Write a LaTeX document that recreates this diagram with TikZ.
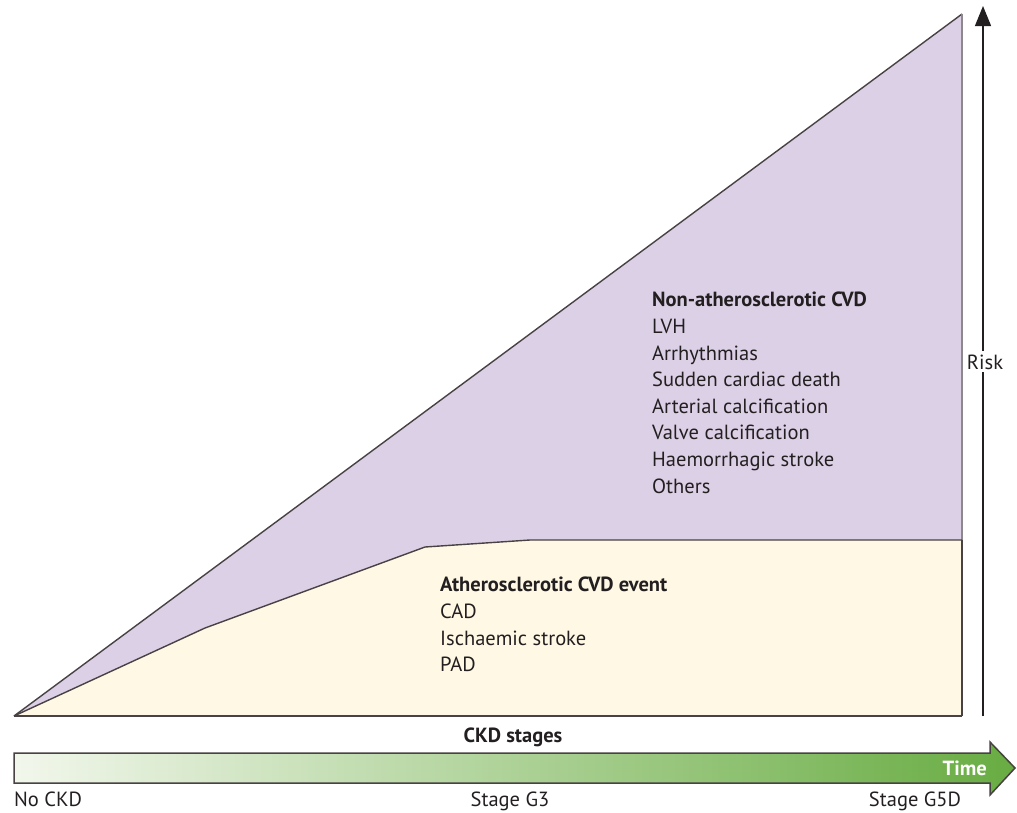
\documentclass[tikz,border=0pt]{standalone}
\usepackage{fontspec}
\setmainfont{PT Sans}
\usepackage{xcolor}
\usepackage{tikz}
\usetikzlibrary{arrows.meta, positioning}

\definecolor{nonathero}{RGB}{220,208,230}
\definecolor{athero}{RGB}{254,248,229}
\definecolor{edgegray}{RGB}{72,66,68}
\definecolor{sidegray}{RGB}{140,136,140}
\definecolor{inkdark}{RGB}{35,31,32}
\definecolor{stageleft}{RGB}{242,247,236}
\definecolor{stageright}{RGB}{104,172,66}

\begin{document}
\begin{tikzpicture}[
    x=1pt, y=-1pt,
    >=Triangle,
    txt/.style={
        font=\fontsize{20.5}{26.6}\selectfont, text=inkdark, inner sep=0pt
    },
    listbox/.style={
        txt, align=left, anchor=north west
    },
    outline/.style={
        draw=edgegray, line width=1.4pt, line join=round
    }
]

\useasboundingbox (0,0) rectangle (1017,812);

% corners of the risk area
\coordinate (origin)  at (14,716);
\coordinate (apex)    at (962,14);
\coordinate (corner)  at (962,716);
\coordinate (kneeA)   at (205,628);
\coordinate (kneeB)   at (425,547);
\coordinate (kneeC)   at (530,540);
\coordinate (plateau) at (962,540);

\path[fill=nonathero] (origin) -- (apex) -- (plateau) -- (kneeC) -- (kneeB) -- (kneeA) -- cycle;

\path[fill=athero] (origin) -- (kneeA) -- (kneeB) -- (kneeC) -- (plateau) -- (corner) -- cycle;

\draw[outline] (origin) -- (apex);
\draw[draw=sidegray, line width=1.6pt] (apex) -- (plateau);
\draw[outline] (plateau) -- (corner);
\draw[outline, line width=2pt] (corner) -- (origin);
\draw[outline] (origin) -- (kneeA) -- (kneeB) -- (kneeC) -- (plateau);

\node[listbox] (nonlist) at (652,292) {\textbf{Non-atherosclerotic CVD}\\
    LVH\\ Arrhythmias\\ Sudden cardiac death\\ Arterial calcification\\
    Valve calcification\\ Haemorrhagic stroke\\ Others};

\node[listbox] (athlist) at (440,577) {\textbf{Atherosclerotic CVD event}\\
    CAD\\ Ischaemic stroke\\ PAD};

% risk axis
\coordinate (riskfoot) at (983,716);
\coordinate (risktip)  at (983,6);
\draw[->, line width=1.3pt, inkdark, arrows={-Triangle[length=20pt, width=16pt]}] (riskfoot) -- (risktip);
\node[txt, fill=white, inner sep=3pt, anchor=base] (risk) at (985,369) {Risk};

% CKD stages arrow
\path[draw=edgegray, line width=1.5pt, line join=miter, left color=stageleft, right color=stageright]
    (14,753) -- (990,753) -- (990,742) -- (1015,768) -- (990,795) -- (990,783) -- (14,783) -- cycle;
\coordinate (stagebar) at (513,742);
\node[txt, font=\fontsize{20.5}{24}\selectfont\bfseries, anchor=base] (ckd) at (stagebar) {CKD stages};
\node[txt, font=\fontsize{20.5}{24}\selectfont\bfseries, text=white, anchor=base east] (time) at (987,775) {Time};

\node[txt, anchor=base west] (nockd) at (14,806) {No CKD};
\node[txt, anchor=base] (g3) at (510,806) {Stage G3};
\node[txt, anchor=base] (g5d) at (915,806) {Stage G5D};

\end{tikzpicture}
\end{document}
